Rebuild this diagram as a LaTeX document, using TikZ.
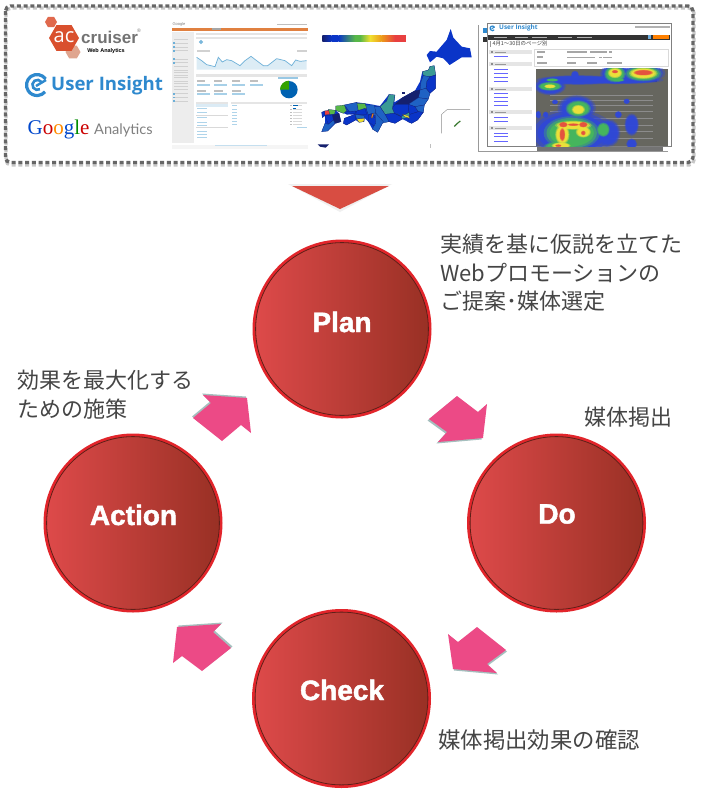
\documentclass[tikz,border=0pt]{standalone}
\usepackage{fontspec}
\setmainfont{Liberation Sans}
\newfontfamily\jpfont{Noto Sans CJK JP}
\newfontfamily\logofont{Open Sans}
\newfontfamily\logoserif{Liberation Serif}
\newfontfamily\anafont{Lato}
\usetikzlibrary{shapes.geometric}
\definecolor{txtgrey}{HTML}{454545}
\definecolor{ringred}{HTML}{E2252B}
\definecolor{circL}{HTML}{DE4A4A}
\definecolor{circR}{HTML}{983024}
\definecolor{darkedge}{HTML}{5E2018}
\definecolor{pink}{HTML}{EC4A86}
\definecolor{arrshadow}{HTML}{A5BFBE}
\definecolor{tri}{HTML}{D84D42}
\definecolor{dotgrey}{HTML}{666666}
\definecolor{uiblue}{HTML}{2E89CE}
\definecolor{achex}{HTML}{D9502E}
\definecolor{achexa}{HTML}{E0694D}
\definecolor{achexb}{HTML}{DFA58F}
\definecolor{mapblue}{HTML}{0A35C8}
\definecolor{mapmid}{HTML}{1F62C4}
\definecolor{mapteal}{HTML}{3A9A95}
\definecolor{mapnavy}{HTML}{15206E}
\definecolor{mapgreen}{HTML}{58B848}
\definecolor{mapyellow}{HTML}{F0E030}
\definecolor{mapred}{HTML}{E84040}
\definecolor{maporange}{HTML}{E88020}
\definecolor{gaorange}{HTML}{E08040}
\definecolor{galine}{HTML}{6DB0D8}
\definecolor{gaarea}{HTML}{DCECF5}
\definecolor{heatbg}{HTML}{66665F}
\definecolor{heatblue}{HTML}{2F48D8}
\definecolor{heatgreen}{HTML}{46B85A}
\definecolor{heatyellow}{HTML}{EFE23A}
\definecolor{heatred}{HTML}{E4503F}
\tikzset{
  pdca/.style={circle,minimum size=176pt,inner sep=0pt,left color=circL,right color=circR,draw=ringred,line width=3pt},
  pdcatext/.style={inner sep=0pt,text=white,font=\bfseries\fontsize{28}{28}\selectfont},
  caption/.style={anchor=north west,inner sep=0pt,text=txtgrey,align=left,font=\jpfont\fontsize{22}{28.5}\selectfont},
  dotbox/.style={rounded corners=5pt,line width=3.4pt,dash pattern=on 4pt off 2.75pt},
  mapcell/.style={draw=mapnavy,line width=.2pt},
}
\newcommand{\pdcalabel}[1]{\special{pdf:code q 2 Tr 0.45 w 1 1 1 RG}#1\special{pdf:code Q}}
\newcommand{\pinkarrow}[3]{%
  \fill[arrshadow,shift={(#1,#2)}] plot coordinates {#3} -- cycle;
  \fill[pink] plot coordinates {#3} -- cycle;}
\newcommand{\cellm}[2]{\fill[#1,mapcell] plot coordinates {#2} -- cycle;}
\newcommand{\heatlayer}[2]{%
  \foreach \x/\y/\a/\b in {#2}{
    \fill[#1,opacity=.35] (\x,\y) ellipse[x radius=1.2*\a,y radius=1.2*\b];
    \fill[#1,opacity=.6] (\x,\y) ellipse[x radius=1.08*\a,y radius=1.08*\b];
    \fill[#1,opacity=.9] (\x,\y) ellipse[x radius=.95*\a,y radius=.95*\b];
  }}
\begin{document}
\begin{tikzpicture}[x=1pt,y=-1pt]
\useasboundingbox (0,0) rectangle (701,801);
\fill[white] (0,0) rectangle (701,801);

% dotted frame
\draw[dotbox,black!22] (6,8) rectangle (694,165);
\draw[dotbox,dotgrey] (5.5,6) rectangle (693,162.5);

% logos: acruiser
\node[regular polygon,regular polygon sides=6,fill=achexb,minimum size=15pt,inner sep=0pt] (hexb) at (73,52) {};
\node[regular polygon,regular polygon sides=6,fill=achexa,minimum size=12pt,inner sep=0pt] (hexa) at (51,22) {};
\node[regular polygon,regular polygon sides=6,fill=achex,minimum size=30pt,inner sep=0pt] (hexc) at (64,38) {};
\node[inner sep=0pt,text=white,font=\logofont\fontsize{20}{20}\selectfont] (aclogo) at (64,37) {ac};
\node[anchor=west,inner sep=0pt,text=black!55,font=\bfseries\fontsize{17}{17}\selectfont] (cruiser) at (81,37.5) {cruiser};
\node[inner sep=0pt,text=black!55,font=\fontsize{5}{5}\selectfont] (reg) at (139,31) {®};
\node[inner sep=0pt,text=black,font=\bfseries\fontsize{5.5}{5.5}\selectfont] (weblogo) at (106,51) {Web Analytics};
% user insight
\draw[uiblue,line width=3.2pt] (45.6,79) arc[start angle=-35,end angle=-320,radius=10.5];
\draw[uiblue,line width=2.6pt] (41.5,82) arc[start angle=-35,end angle=-300,radius=5];
\draw[uiblue,line width=2.4pt] (36,86) -- (46,80);
\node[anchor=west,inner sep=0pt,text=uiblue,font=\logofont\bfseries\fontsize{18.6}{18.6}\selectfont] (uilogo) at (51,85.5) {User Insight};
% google analytics
\node[anchor=west,inner sep=0pt,font=\logoserif\fontsize{21}{21}\selectfont] (glogo) at (27.5,129)
  {\textcolor{blue!65!cyan!80!black}{G}\textcolor{red!80!black}{o}\textcolor{orange!90!yellow}{o}\textcolor{blue!65!cyan!80!black}{g}\textcolor{green!55!black}{l}\textcolor{red!80!black}{e}};
\node[anchor=west,inner sep=0pt,text=black!50,font=\anafont\fontsize{14.6}{14.6}\selectfont] (alogo) at (94,130) {Analytics};

% Analytics screenshot
\begin{scope}[shift={(165,18)},scale=1/3]
\fill[white!96!black] (20,380) rectangle (430,392);
\fill[black!7] (22,42) rectangle (88,375);
\fill[gaorange] (22,30) rectangle (428,40);
\node[inner sep=0pt,text=black!50,font=\fontsize{4}{4}\selectfont] (gashot) at (42,20) {Google};
\fill[black!35] (140,29) rectangle (168,37);
\fill[black!25] (335,17) rectangle (425,21);
\foreach \y in {62,74,86,97,122,133,144,155,162,170,177,188,196,204,213,226,237,248}
  \fill[black!18] (28,\y) rectangle (70,\y+3);
\foreach \y in {73,85,97,122,133,226,237,248}
  \fill[galine] (25,\y-1) rectangle (30,\y+4);
\fill[black!10] (92,45) rectangle (425,50);
\fill[black!10] (92,57) rectangle (425,63);
\fill[black!18] (95,97) rectangle (135,101);
\fill[black!18] (395,96) rectangle (425,103);
\draw[galine,line width=1pt] (108,72) circle[radius=4];
\fill[gaarea] plot coordinates {(95,118) (110,128) (125,140) (150,146) (160,118) (172,132) (185,125) (200,128) (225,143) (240,128) (258,115) (275,128) (295,143) (308,143) (335,122) (360,128) (380,143) (392,126) (405,130) (425,128)} -- (425,155) -- (95,155) -- cycle;
\draw[galine,line width=.7pt] plot coordinates {(95,118) (110,128) (125,140) (150,146) (160,118) (172,132) (185,125) (200,128) (225,143) (240,128) (258,115) (275,128) (295,143) (308,143) (335,122) (360,128) (380,143) (392,126) (405,130) (425,128)};
\fill[black!10] (92,167) rectangle (425,177);
\foreach \x in {95,147,200,255}{
  \fill[black!25] (\x,186) rectangle (\x+25,192);
  \fill[galine!60] (\x,199) rectangle (\x+40,204);
}
\foreach \x in {95,147,200}{
  \fill[black!25] (\x,215) rectangle (\x+28,221);
  \fill[galine!60] (\x,226) rectangle (\x+40,231);
}
\fill[galine!70] (340,178) rectangle (398,182);
\fill[blue!45!cyan!70!black] (372,215) circle[radius=26];
\fill[green!55!black!80!yellow] (372,215) -- (345,215) arc[start angle=180,end angle=270,radius=27] -- cycle;
\fill[black!10] (92,252) rectangle (190,258);
\fill[black!10] (198,252) rectangle (425,258);
\fill[galine!25] (92,259) rectangle (190,268);
\foreach \y in {271,281,298,311,320,338,347,357}
  \fill[galine!55] (95,\y) rectangle (125,\y+3);
\fill[black!15] (92,290) rectangle (190,293);
\fill[black!15] (92,328) rectangle (190,331);
\foreach \y in {262,272,281,290,299,309,318}{
  \fill[galine!55] (200,\y) rectangle (215,\y+3);
  \fill[black!25] (375,\y) rectangle (380,\y+3);
  \fill[black!15] (385,\y) rectangle (410,\y+3);
}
\fill[blue!45!cyan!70!black] (385,261) rectangle (398,264);
\fill[blue!45!cyan!70!black] (385,271) rectangle (394,274);
\fill[galine!55] (395,327) rectangle (425,330);
\fill[galine!40] (150,380) rectangle (305,384);
\end{scope}

% Map
\begin{scope}[shift={(315,25)},scale=1/3]
\shade[left color=mapnavy,right color=mapblue] (22,30) rectangle (50,50);
\fill[mapblue] (50,30) rectangle (70,50);
\shade[left color=mapblue,right color=mapgreen] (70,30) rectangle (120,50);
\fill[mapgreen] (120,30) rectangle (135,50);
\shade[left color=mapgreen,right color=mapyellow] (135,30) rectangle (165,50);
\shade[left color=mapyellow,right color=maporange!80!yellow] (165,30) rectangle (200,50);
\shade[left color=maporange!80!yellow,right color=mapred] (200,30) rectangle (240,50);
\fill[mapred] (240,30) rectangle (272,50);
% Hokkaido
\fill[mapblue] plot coordinates {(407,12) (415,38) (440,65) (465,70) (470,97) (440,97) (404,120) (385,100) (365,95) (345,112) (335,90) (345,78) (365,80) (375,68) (395,45)} -- cycle;
% silhouettes
\fill[mapblue] plot coordinates {(88,240) (125,232) (150,235) (178,240) (195,243) (222,208) (240,210) (238,232) (262,218) (300,197) (315,170) (322,140) (340,135) (345,124) (358,122) (362,150) (362,190) (345,205) (340,222) (328,240) (325,262) (308,285) (290,295) (278,290) (262,282) (240,295) (222,290) (205,290) (188,322) (172,312) (160,290) (140,270) (95,268) (62,256)} -- cycle;
\fill[mapblue] plot coordinates {(20,262) (45,255) (62,256) (72,265) (78,290) (62,295) (38,318) (20,320) (30,295) (30,272)} -- cycle;
\fill[mapblue] plot coordinates {(88,280) (120,268) (148,272) (148,290) (132,292) (122,285) (95,300) (85,295)} -- cycle;
% Tohoku
\cellm{mapteal}{(322,140) (340,135) (345,124) (358,122) (362,150) (345,155) (325,152)}
\cellm{mapblue}{(345,155) (362,150) (362,190) (345,205) (333,190) (335,170)}
\cellm{mapmid}{(325,152) (345,155) (335,170) (333,190) (315,195) (318,170)}
\cellm{mapmid}{(315,195) (333,190) (345,205) (340,222) (310,218)}
% Niigata / Chubu / Kanto
\cellm{mapnavy}{(300,197) (315,195) (310,218) (280,238) (240,238) (262,218)}
\cellm{mapmid}{(310,218) (340,222) (328,240) (300,245) (280,238)}
\cellm{mapblue}{(240,238) (280,238) (282,262) (258,275) (238,265) (232,250)}
\cellm{mapblue}{(280,238) (300,245) (310,260) (285,268) (282,262)}
\cellm{mapmid}{(300,245) (328,240) (325,262) (310,260)}
\cellm{mapteal}{(222,208) (240,210) (236,232) (232,250) (238,265) (210,268) (195,245) (215,228)}
\cellm{mapteal}{(245,265) (258,275) (282,262) (285,275) (262,282)}
\cellm{mapblue}{(310,260) (325,262) (308,285) (290,295) (278,290) (285,268)}
\cellm{mapyellow}{(262,268) (280,272) (284,280) (268,275)}
\cellm{mapblue}{(210,268) (238,265) (258,275) (262,282) (240,295) (222,290)}
\cellm{mapmid}{(178,245) (195,245) (210,268) (222,290) (200,295) (185,275)}
% Kinki / Kii
\cellm{mapmid}{(150,240) (178,240) (185,275) (170,265) (160,270)}
\cellm{mapblue}{(160,270) (172,268) (185,285) (180,305) (160,290)}
\cellm{mapmid}{(180,262) (205,290) (188,322) (172,312) (182,295)}
\cellm{maporange}{(172,265) (177,265) (172,280) (168,278)}
% Chugoku
\cellm{mapgreen}{(125,235) (150,235) (155,250) (130,258)}
\cellm{mapmid}{(88,240) (125,232) (130,258) (105,262)}
\cellm{mapblue}{(125,258) (150,250) (155,268) (122,268)}
\cellm{mapgreen}{(62,243) (88,240) (95,258) (85,265) (62,256)}
\cellm{mapblue}{(92,260) (122,258) (120,265) (95,268)}
% Shikoku
\cellm{mapblue}{(88,280) (120,268) (122,285) (95,300) (85,295)}
\cellm{mapmid}{(120,268) (148,272) (148,280) (125,282)}
\cellm{mapyellow}{(125,282) (148,280) (146,290) (132,292)}
% Kyushu
\cellm{mapred}{(28,258) (45,255) (45,268) (30,270)}
\cellm{mapgreen}{(40,253) (62,256) (58,268) (45,268)}
\cellm{mapnavy}{(50,270) (72,265) (78,290) (62,295) (55,285)}
\cellm{mapblue}{(30,272) (52,270) (55,285) (40,298)}
\cellm{mapmid}{(30,295) (40,298) (55,285) (60,295) (38,318) (20,320)}
\cellm{mapblue}{(20,262) (28,258) (30,272) (22,278)}
\fill[mapnavy] (8,358) -- (42,358) -- (32,368) -- (15,365) -- cycle;
\fill[black!25] (344,358) rectangle (347,370);
\fill[mapnavy] (262,200) rectangle (270,207);
% Okinawa inset
\draw[black!45,line width=.4pt] (380,325) -- (380,268) -- (396,254) -- (465,254);
\draw[mapgreen!65!black,line width=1.2pt] (418,304) -- (426,296) -- (436,288);
\end{scope}

% Heatmap screenshot
\begin{scope}[shift={(475,18)},scale=1/3]
\fill[white] (10,22) rectangle (575,400);
\draw[black!40,line width=.5pt] (10,22) -- (10,400) -- (580,400);
\fill[black!55] (185,385) rectangle (565,400);
\fill[uiblue] (25,30) rectangle (38,45);
\fill[black!80] (25,57) rectangle (38,72);
\fill[white] (38,15) rectangle (590,385);
\draw[black!50,line width=.7pt] (38,15) -- (590,15) -- (590,385) -- (38,385) -- cycle;
\draw[uiblue,line width=1.2pt] (58,27) arc[start angle=-35,end angle=-320,radius=7];
\draw[uiblue,line width=1pt] (50,32) -- (59,27);
\node[anchor=west,inner sep=0pt,text=uiblue,font=\logofont\bfseries\fontsize{6.4}{6.4}\selectfont] (uihead) at (72,31) {User Insight};
\fill[black!30] (480,25) rectangle (585,30);
\fill[black!80] (40,50) rectangle (585,66);
\foreach \x/\w in {56/40,120/40,170/45,250/40,305/45}
  \fill[white!70!black] (\x,56) rectangle (\x+\w,60);
\fill[orange] (533,52) rectangle (582,64);
\fill[uiblue!70] (520,52) rectangle (527,64);
\node[anchor=west,inner sep=0pt,text=black!75,font=\jpfont\fontsize{5.4}{5.4}\selectfont] (pagetitle) at (52,78) {4月1〜30日のページ別};
\draw[black!40,line width=.6pt] (47,70) -- (47,88);
% side menu
\foreach \y in {97,133,208,277,325}{
  \fill[black!10] (42,\y) rectangle (170,\y+12);
  \fill[black!45] (47,\y+3) rectangle (55,\y+9);
  \fill[black!40] (60,\y+4) rectangle (92,\y+8);
}
\foreach \y in {115,153,165,177,188,226,238,249,261,297,310,344,355,368}
  \fill[blue!60!white] (58,\y) rectangle (100,\y+3);
% option box
\draw[black!15,line width=.4pt] (178,95) rectangle (580,145);
\foreach \x/\y/\w in {185/100/25,185/115/20,185/133/30,275/100/62,345/100/8,355/100/40,403/100/8,275/117/85,373/117/9,385/117/25,275/133/28,335/133/30,395/133/45}
  \fill[black!35] (\x,\y) rectangle (\x+\w,\y+4);
% heat image
\begin{scope}
\clip (183,152) rectangle (580,385);
\fill[heatbg] (183,152) rectangle (580,385);
\foreach \y in {232,246,262,280,300,320,340,360}
  \fill[black!45] (225,\y) rectangle (535,\y+2);
\fill[black!40!blue!40!heatbg] (215,180) rectangle (545,192);
\heatlayer{heatblue}{505/165/55/24,420/168/38/26,225/205/40/22,310/186/105/12,440/186/105/10,305/270/48/32,290/345/108/60,400/345/30/35,470/320/18/28,190/290/7/10,212/290/7/8,240/252/8/6,470/378/14/14,300/170/10/10,430/290/9/9,455/250/8/7}
\heatlayer{heatgreen}{505/167/46/19,420/168/27/21,225/205/30/11,310/272/32/21,290/345/70/42,385/335/16/18,232/186/16/4,430/186/16/4,255/385/40/12}
\heatlayer{heatyellow}{505/166/36/14,420/165/18/13,225/205/15/5,310/275/17/12,295/322/46/11,262/350/18/25,325/342/19/14,258/383/24/8}
\heatlayer{heatred}{505/164/25/7,420/161/8/4,265/320/11/7,325/320/11/7,262/350/7/17,325/345/6/6,250/383/8/3,295/320/15/3}
\end{scope}
\end{scope}

% down triangle
\fill[black!6] (288,184) -- (392,184) -- (340,212) -- cycle;
\fill[tri] (292,186) -- (389,186) -- (340,209) -- cycle;

% cycle arrows
\pinkarrow{-1}{-1.5}{(203,395) (211,403) (193,418) (222,441) (241,425) (251,433) (247,398)}
\pinkarrow{-1.5}{1.5}{(457,396) (478,412) (487,404) (483,438) (438,442) (447,432) (429,419)}
\pinkarrow{1}{1.5}{(448,634) (458,642) (477,627) (506,650) (487,664) (497,673) (453,669)}
\pinkarrow{1.5}{-1.5}{(177,627) (221,624) (213,632) (231,648) (202,671) (182,656) (173,663)}

% circles
\node[pdca] (plan) at (342,329) {};
\node[pdca] (do) at (556.5,523) {};
\node[pdca] (check) at (341.5,698.5) {};
\node[pdca] (action) at (133,523) {};
\foreach \n in {plan,do,check,action}
  \draw[darkedge,line width=.8pt] (\n.center) circle[radius=86.4];
\node[pdcatext] (plantext) at (342,322) {\pdcalabel{Plan}};
\node[pdcatext] (dotext) at (557,514) {\pdcalabel{Do}};
\node[pdcatext] (checktext) at (342,690) {\pdcalabel{Check}};
\node[pdcatext] (actiontext) at (133.5,515) {\pdcalabel{Action}};

% captions
\node[caption] (capplan) at (440,234) {実績を基に仮説を立てた\\Webプロモーションの\\ご提案･媒体選定};
\node[caption] (capact) at (17,370) {効果を最大化する\\ための施策};
\node[caption] (capdo) at (584,407) {媒体掲出};
\node[caption,font=\jpfont\fontsize{22.4}{28.5}\selectfont] (capcheck) at (438,729) {媒体掲出効果の確認};
\end{tikzpicture}
\end{document}
